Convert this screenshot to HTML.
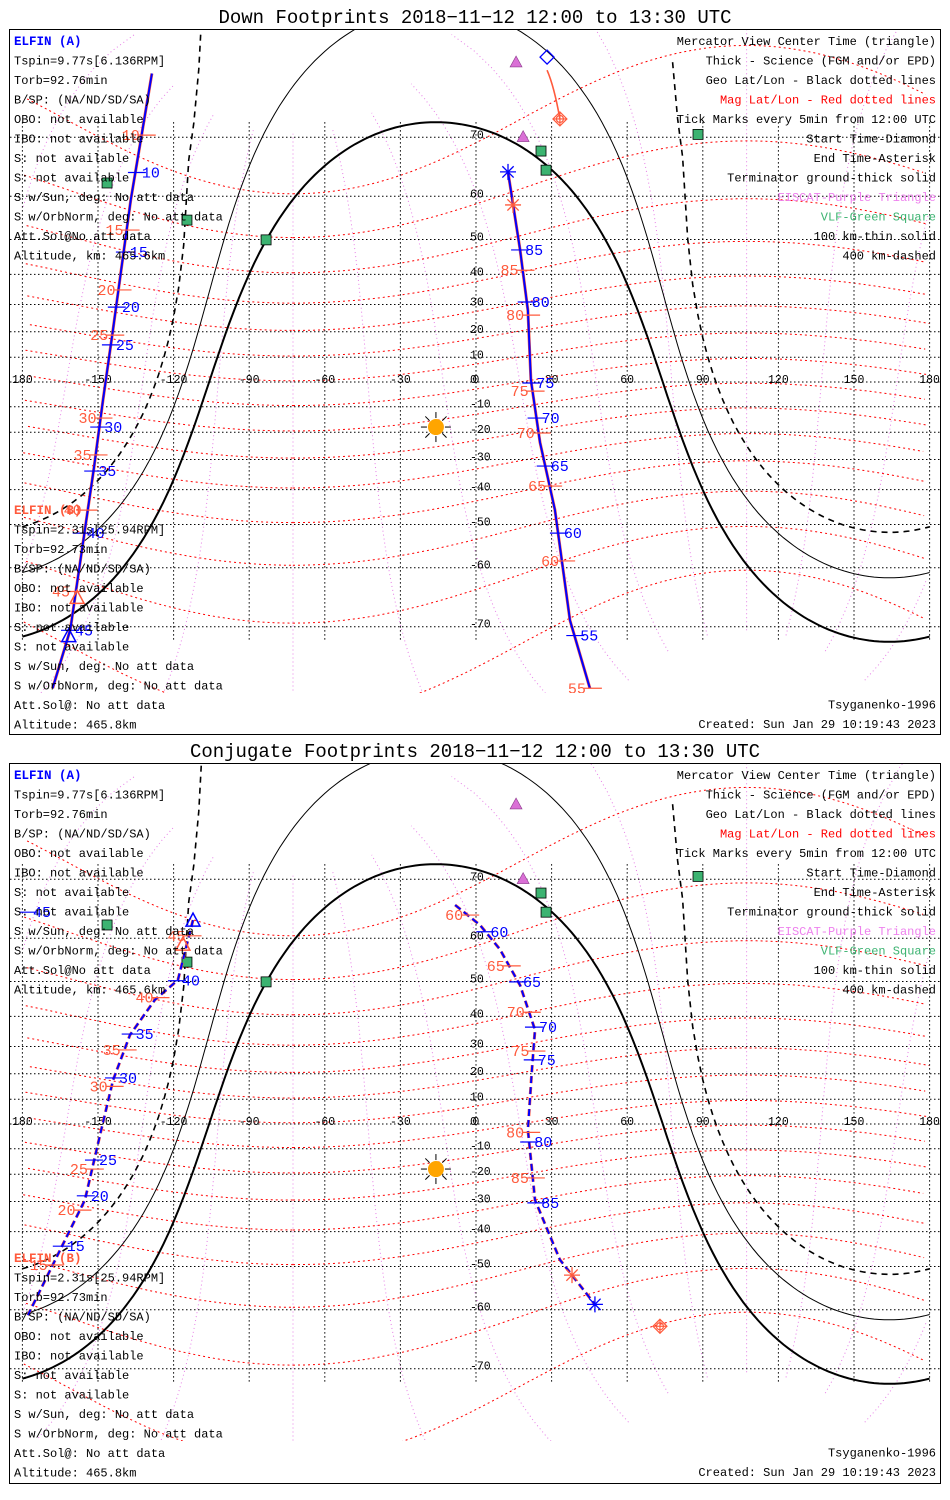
<!DOCTYPE html>
<html><head><meta charset="utf-8"><title>ELFIN Footprints</title>
<style>
html,body{margin:0;padding:0;background:#fff;}
svg{display:block;}
text{font-family:"Liberation Mono","DejaVu Sans Mono",monospace;}
</style></head>
<body>
<svg id="chart" width="950" height="1500" viewBox="0 0 950 1500" xmlns="http://www.w3.org/2000/svg"></svg>
<script>
// ---------- DATA ----------
const lonTicks = [-180,-150,-120,-90,-60,-30,0,30,60,90,120,150,180];
const lonTickLabels = ["180","-150","-120","-90","-60","-30","0","30","60","90","120","150","180"];
const latTicks = [70,60,50,40,30,20,10,0,-10,-20,-30,-40,-50,-60,-70];
const magLats = [-70,-60,-50,-40,-30,-20,-10,0,10,20,30,40,50,60,70];
const magLons = [0,30,60,90,120,150,180,210,240,270,300,330];

// Down footprints (top panel)
const downTrackALon = [-128.6,-137,-144,-148,-151.6,-161,-168];
const downTrackALat = [77.2,59.3,21.1,-7.3,-32.8,-70.4,-77];
const downBlueALabels = ["10","15","20","25","30","35","40","45"];
const downBlueALats = [64.5,46.6,29.1,14.9,-18,-34,-52.2,-70.5];
const downRedALabels = ["10","15","20","25","30","35","40","45"];
const downRedALats = [70.3,52.4,35,18.7,-14.5,-28.4,-46.1,-64.5];
const downTrackBLon = [12.7,17.5,20.6,21.8,25.4,31.3,37.3,45.2];
const downTrackBLat = [64.6,47.2,27.9,0.8,-23.8,-46,-69.1,-77];
const downBlueBLabels = ["85","80","75","70","65","60","55"];
const downBlueBLats = [47.2,30.9,-0.4,-14.5,-32.3,-52.2,-71.2];
const downRedBLabels = ["85","80","75","70","65","60","55"];
const downRedBLats = [41.3,26.2,-3.7,-20.3,-38.9,-58.6,-77];

// Conjugate footprints (bottom panel)
const conjTrackALon = [-112.3,-118.3,-127.4,-137.3,-144,-149.2,-155.2,-165.1,-177.8];
const conjTrackALat = [63.5,50.4,45,34,17.6,-4.5,-29.5,-45.6,-61.1];
const conjBlueALabels = ["45","40","35","30","25","20","15"];
const conjBlueALats = [64.9,50.2,34.3,18.4,-14.5,-28,-44.4];
const conjRedALabels = ["45","40","35","30","25","20","15"];
const conjRedALats = [60.5,45.6,28.8,15.1,-18,-33,-49.6];
const conjTrackBLon = [-8.3,1.6,9.5,17.5,23.4,22.2,20.6,23.4,33.3,47.2];
const conjTrackBLat = [66.1,62.6,57.7,49,35.7,21.4,-2.4,-29.5,-48.2,-58.9];
const conjBlueBLabels = ["60","65","70","75","80","85"];
const conjBlueBLats = [61.3,49.9,36.6,25.2,-7.3,-30.5];
const conjRedBLabels = ["60","65","70","75","80","85"];
const conjRedBLats = [64.4,53.9,41.3,28.4,-3.4,-21.4];

// stations
const eiscatLon = [15.9,18.7];
const eiscatLat = [78.2,70.1];
const vlfLon = [25.8,27.8,-146.4,-114.7,-83.3,88.1];
const vlfLat = [68,64.9,62.6,54.8,49.9,70.4];
// sun
const sunLon = -15.9;
const sunDec = -18;
// terminator altitude depression angles (deg): ground, 100 km, 400 km
const termAngles = [0,10,20];

const leftA = ["Tspin=9.77s[6.136RPM]","Torb=92.76min","B/SP: (NA/ND/SD/SA)","OBO: not available","IBO: not available","S: not available","S: not available","S w/Sun, deg: No att data","S w/OrbNorm, deg: No att data","Att.Sol@No att data","Altitude, km: 465.6km"];
const leftB = ["Tspin=2.31s[25.94RPM]","Torb=92.73min","B/SP: (NA/ND/SD/SA)","OBO: not available","IBO: not available","S: not available","S: not available","S w/Sun, deg: No att data","S w/OrbNorm, deg: No att data","Att.Sol@: No att data","Altitude: 465.8km"];
const legendLines = ["Mercator View Center Time (triangle)","Thick - Science (FGM and/or EPD)","Geo Lat/Lon - Black dotted lines","Mag Lat/Lon - Red dotted lines","Tick Marks every 5min from 12:00 UTC","Start Time-Diamond","End Time-Asterisk","Terminator ground-thick solid","EISCAT-Purple Triangle","VLF-Green Square","100 km-thin solid","400 km-dashed"];
const legendColors = ["#000","#000","#000","#f00","#000","#000","#000","#000","#ee82ee","#3cb371","#000","#000"];

// ---------- DRAWING ----------
const NS = "http://www.w3.org/2000/svg";
const svg = document.getElementById('chart');
const RED = "#ff5a3c", BLUE = "#0000ff";
function mk(tag, attrs, parent){
  const e = document.createElementNS(NS, tag);
  for (const k in attrs) e.setAttribute(k, attrs[k]);
  (parent||svg).appendChild(e);
  return e;
}
const D = Math.PI/180;

function panel(cfg){
  const xOf = lon => 476 + 2.52*lon;
  const yOf = lat => cfg.eqY - 141*Math.log(Math.tan(Math.PI/4 + lat*D/2));
  const g = mk('g', {});
  
  

  const title = mk('text', {x:475, y:cfg.titleY, 'font-size':19, 'text-anchor':'middle'}, g);
  
  
  title.textContent = cfg.title;

  const box = mk('rect', {x:9.5, y:cfg.boxY+0.5, width:931, height:cfg.boxH, fill:'none', stroke:'#000', 'stroke-width':1}, g);
  
  

  const cid = 'clip' + cfg.eqY;
  const cp = mk('clipPath', {id:cid}, g);
  mk('rect', {x:10, y:cfg.boxY+1, width:930, height:cfg.mapBottom-cfg.boxY}, cp);
  const map = mk('g', {'clip-path':'url(#'+cid+')'}, g);
  
  

  // magnetic coordinate lines
  const tp = 9.5*D, lp = -72.6*D;
  function m2g(mlat, mlon){
    const x = Math.cos(mlat*D)*Math.cos(mlon*D), y = Math.cos(mlat*D)*Math.sin(mlon*D), z = Math.sin(mlat*D);
    const x1 = x*Math.cos(tp) + z*Math.sin(tp), z1 = -x*Math.sin(tp) + z*Math.cos(tp);
    const X = x1*Math.cos(lp) - y*Math.sin(lp), Y = x1*Math.sin(lp) + y*Math.cos(lp);
    return [Math.atan2(Y,X)/D, Math.asin(Math.max(-1,Math.min(1,z1)))/D];
  }
  function polyFromGeo(pts, attrs, name){
    let segs = [], cur = [], prev = null;
    pts.forEach(p => {
      if (prev && Math.abs(p[0]-prev[0]) > 180) { segs.push(cur); cur = []; }
      if (Math.abs(p[1]) < 84) cur.push(xOf(p[0]).toFixed(1)+','+yOf(p[1]).toFixed(1));
      else { if (cur.length) segs.push(cur); cur = []; }
      prev = p;
    });
    segs.push(cur);
    segs.forEach(s => {
      if (s.length < 2) return;
      const pl = mk('polyline', Object.assign({points:s.join(' '), fill:'none'}, attrs), map);
      
      
    });
  }
  magLons.forEach(ml => {
    const pts = [];
    for (let a = -80; a <= 80; a += 2) pts.push(m2g(a, ml));
    polyFromGeo(pts, {stroke:'#e67ee6', 'stroke-width':1, 'stroke-dasharray':'1,3'}, 'mag-lon-line');
  });
  magLats.forEach(ml => {
    const pts = [];
    for (let a = 0; a <= 360; a += 3) pts.push(m2g(ml, a));
    polyFromGeo(pts, {stroke:'#f00', 'stroke-width':1, 'stroke-dasharray':'2,3'}, 'mag-lat-line');
  });

  // geo grid
  latTicks.forEach(lat => {
    const l = mk('line', {x1:10, x2:940, y1:yOf(lat), y2:yOf(lat), stroke:'#000', 'stroke-width':1, 'stroke-dasharray':'1.5,2.5'}, map);
    
    
    const t = mk('text', {x:470, y:yOf(lat)+1, 'font-size':11.5, fill:'#000'}, map);
    
    
    t.textContent = String(lat);
  });
  lonTicks.forEach((lon, i) => {
    const l = mk('line', {x1:xOf(lon), x2:xOf(lon), y1:yOf(72), y2:yOf(-72), stroke:'#000', 'stroke-width':1, 'stroke-dasharray':'1.5,2.5'}, map);
    
    
    const t = mk('text', {x:xOf(lon), y:cfg.eqY+1, 'font-size':11.5, 'text-anchor':'middle', fill:'#000'}, map);
    
    
    t.textContent = lonTickLabels[i];
  });

  // terminators
  const dec = sunDec*D;
  termAngles.forEach((al, k) => {
    const pts = [];
    for (let lon = -180; lon <= 180; lon += 2) {
      const a = Math.cos((lon - sunLon)*D)*Math.cos(dec), b = Math.sin(dec);
      const R = Math.hypot(a, b), c = -Math.sin(al*D);
      const phi = (Math.atan2(b, a) + Math.acos(Math.max(-1, Math.min(1, c/R))))/D;
      pts.push([lon, Math.max(-85, Math.min(85, phi))]);
    }
    const attrs = k === 0 ? {stroke:'#000','stroke-width':2} : (k === 1 ? {stroke:'#000','stroke-width':1} : {stroke:'#000','stroke-width':1.6,'stroke-dasharray':'6,5'});
    polyFromGeo(pts, attrs, k === 0 ? 'terminator-ground' : (k === 1 ? 'terminator-100km' : 'terminator-400km'));
  });

  // sun
  const sx = xOf(sunLon), sy = yOf(sunDec);
  const sun = mk('g', {}, map);
  
  
  for (let i = 0; i < 8; i++) {
    const an = i*Math.PI/4;
    mk('line', {x1:sx+Math.cos(an)*9, y1:sy+Math.sin(an)*9, x2:sx+Math.cos(an)*15, y2:sy+Math.sin(an)*15, stroke:'#000','stroke-width':1}, sun);
  }
  mk('circle', {cx:sx, cy:sy, r:8, fill:'#ffa500'}, sun);

  // stations
  eiscatLon.forEach((lon, i) => {
    const x = xOf(lon), y = yOf(eiscatLat[i]);
    const p = mk('polygon', {points:`${x-6},${y+5} ${x+6},${y+5} ${x},${y-6}`, fill:'#da70d6', stroke:'#8b3a8b','stroke-width':0.6}, map);
    
    
  });
  vlfLon.forEach((lon, i) => {
    const x = xOf(lon), y = yOf(vlfLat[i]);
    const r = mk('rect', {x:x-5, y:y-5, width:10, height:10, fill:'#3cb371', stroke:'#000','stroke-width':0.8}, map);
    
    
  });

  // tracks
  function interpLon(lonArr, latArr, lat){
    for (let i = 0; i < latArr.length-1; i++) {
      const a = latArr[i], b = latArr[i+1];
      if ((lat <= a && lat >= b) || (lat >= a && lat <= b)) {
        const t = (lat - a)/(b - a || 1);
        return lonArr[i] + t*(lonArr[i+1]-lonArr[i]);
      }
    }
    return lonArr[lonArr.length-1];
  }
  function track(tr){
    const pts = tr.lon.map((l, i) => xOf(l).toFixed(1)+','+yOf(tr.lat[i]).toFixed(1)).join(' ');
    const r = mk('polyline', {points:pts, fill:'none', stroke:RED, 'stroke-width':3, 'stroke-dasharray':tr.dash||'none'}, map);
    
    
    const b = mk('polyline', {points:pts, fill:'none', stroke:BLUE, 'stroke-width':2, 'stroke-dasharray':tr.dash||'none'}, map);
    
    
    tr.blueLats.forEach((lat, i) => {
      const x = xOf(interpLon(tr.lon, tr.lat, lat)), y = yOf(lat);
      const l = mk('line', {x1:x-9, x2:x+9, y1:y, y2:y, stroke:BLUE,'stroke-width':1.2}, map);
      
      
      const t = mk('text', {x:x+5, y:y+5, 'font-size':15, fill:BLUE}, map);
      
      
      t.textContent = tr.blueLabels[i];
    });
    tr.redLats.forEach((lat, i) => {
      const x = xOf(interpLon(tr.lon, tr.lat, lat)), y = yOf(lat);
      const l = mk('line', {x1:x-6, x2:x+12, y1:y, y2:y, stroke:RED,'stroke-width':1.2}, map);
      
      
      const t = mk('text', {x:x-4, y:y+5, 'font-size':15, fill:RED, 'text-anchor':'end'}, map);
      
      
      t.textContent = tr.redLabels[i];
    });
  }
  cfg.tracks.forEach(track);

  function asterisk(lon, lat, col, name){
    const x = xOf(lon), y = yOf(lat);
    const a = mk('g', {stroke:col,'stroke-width':1.3}, map);
    
    
    for (let i = 0; i < 4; i++) { const an = i*Math.PI/4; mk('line', {x1:x-Math.cos(an)*8, y1:y-Math.sin(an)*8, x2:x+Math.cos(an)*8, y2:y+Math.sin(an)*8}, a); }
  }
  function diamondCircle(lon, lat, name){
    const x = xOf(lon), y = yOf(lat);
    const a = mk('g', {stroke:RED,'stroke-width':1.2, fill:'none'}, map);
    
    
    mk('polygon', {points:`${x},${y-7} ${x+7},${y} ${x},${y+7} ${x-7},${y}`}, a);
    mk('circle', {cx:x, cy:y, r:3.5}, a);
    mk('line', {x1:x-7, x2:x+7, y1:y, y2:y}, a);
    mk('line', {x1:x, x2:x, y1:y-7, y2:y+7}, a);
  }
  function triangle(lon, lat, col, name){
    const x = xOf(lon), y = yOf(lat);
    const t = mk('polygon', {points:`${x-7},${y+6} ${x+7},${y+6} ${x},${y-7}`, fill:'none', stroke:col,'stroke-width':1.5}, map);
    
    
  }
  cfg.extras({xOf, yOf, asterisk, diamondCircle, triangle, map});

  // text blocks
  function lines(arr, x0, y0, col, anchor, names, colors){
    arr.forEach((s, i) => {
      const t = mk('text', {x:x0, y:y0 + i*19.5, 'font-size':12, fill:colors ? colors[i] : col, 'text-anchor':anchor}, g);
      
      
      t.textContent = s;
    });
  }
  const hA = mk('text', {x:14, y:cfg.boxY+16, 'font-size':12.5, 'font-weight':'bold', fill:BLUE, 'font-family':'Liberation Sans, sans-serif'}, g);
  
  
  hA.textContent = 'ELFIN (A)';
  lines(leftA, 14, cfg.boxY+35.5, '#000', 'start', 'elfin-a-info');
  const hB = mk('text', {x:14, y:cfg.bY, 'font-size':12.5, 'font-weight':'bold', fill:RED, 'font-family':'Liberation Sans, sans-serif'}, g);
  
  
  hB.textContent = 'ELFIN (B)';
  lines(leftB, 14, cfg.bY+19.5, '#000', 'start', 'elfin-b-info');
  lines(legendLines, 936, cfg.boxY+16, '#000', 'end', 'legend-entry', legendColors);
  lines(['Tsyganenko-1996','Created: Sun Jan 29 10:19:43 2023'], 936, cfg.bY+194.5, '#000', 'end', 'footer-note');
}

panel({
  name:'down-footprints-panel', title:'Down Footprints 2018\u221211\u221212 12:00 to 13:30 UTC',
  titleY:23, boxY:29, boxH:705, eqY:382, mapBottom:692, bY:514,
  tracks:[
    {lon:downTrackALon, lat:downTrackALat, blueLabels:downBlueALabels, blueLats:downBlueALats, redLabels:downRedALabels, redLats:downRedALats},
    {lon:downTrackBLon, lat:downTrackBLat, blueLabels:downBlueBLabels, blueLats:downBlueBLats, redLabels:downRedBLabels, redLats:downRedBLats}
  ],
  extras:function(h){
    const p = mk('path', {d:`M${h.xOf(28.2)},${h.yOf(77.5)} Q${h.xOf(31)},${h.yOf(76)} ${h.xOf(33.3)},${h.yOf(72.4)}`, fill:'none', stroke:RED,'stroke-width':1.6}, h.map);
    
    
    const x = h.xOf(28.2), y = h.yOf(78.6);
    const d = mk('polygon', {points:`${x},${y-7} ${x+7},${y} ${x},${y+7} ${x-7},${y}`, fill:'none', stroke:BLUE,'stroke-width':1.3}, h.map);
    
    
    h.diamondCircle(33.3, 72.4, 'elfin-b-start-diamond');
    h.asterisk(12.7, 64.6, BLUE, 'elfin-a-end-asterisk');
    h.asterisk(14.7, 58.2, RED, 'elfin-b-end-asterisk');
    h.triangle(-161.6, -71.2, BLUE, 'elfin-a-center-triangle');
    h.triangle(-158.3, -65.5, RED, 'elfin-b-center-triangle');
  }
});

panel({
  name:'conjugate-footprints-panel', title:'Conjugate Footprints 2018\u221211\u221212 12:00 to 13:30 UTC',
  titleY:757, boxY:763, boxH:720, eqY:1124, mapBottom:1440, bY:1262,
  tracks:[
    {lon:conjTrackALon, lat:conjTrackALat, blueLabels:conjBlueALabels, blueLats:conjBlueALats, redLabels:conjRedALabels, redLats:conjRedALats, dash:'7,4'},
    {lon:conjTrackBLon, lat:conjTrackBLat, blueLabels:conjBlueBLabels, blueLats:conjBlueBLats, redLabels:conjRedBLabels, redLats:conjRedBLats, dash:'7,4'}
  ],
  extras:function(h){
    h.asterisk(47.2, -58.9, BLUE, 'elfin-a-end-asterisk');
    h.asterisk(38.1, -52.2, RED, 'elfin-b-end-asterisk');
    h.diamondCircle(73, -63.2, 'elfin-b-marker');
    h.triangle(-112.3, 63.5, BLUE, 'elfin-a-center-triangle');
    h.triangle(-116.3, 58.8, RED, 'elfin-b-center-triangle');
  }
});
</script>
</body></html>
